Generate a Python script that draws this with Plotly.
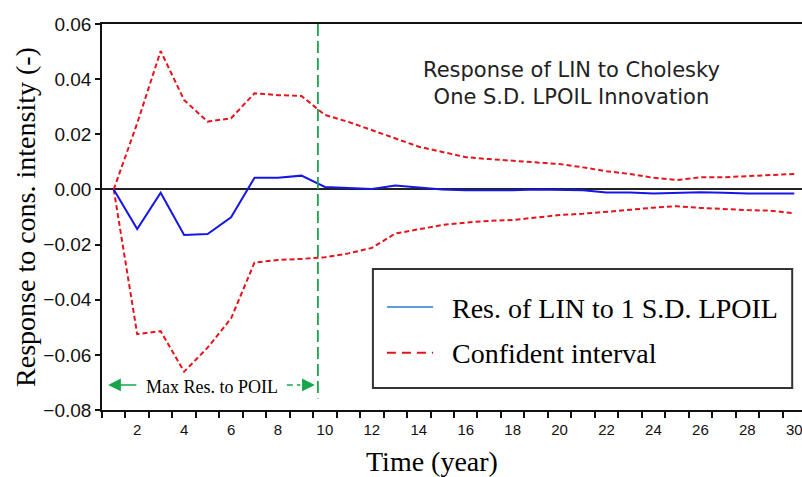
import plotly.graph_objects as go

# ---- data ----
years = list(range(1, 31))
response = [0.0, -0.0144, -0.0012, -0.0165, -0.0162, -0.0101, 0.0042, 0.0042, 0.0050, 0.0009,
            0.0005, 0.0002, 0.0014, 0.0006, 0.0000, -0.0003, -0.0003, -0.0003, 0.0000, -0.0001,
            -0.0003, -0.0011, -0.0011, -0.0015, -0.0013, -0.0010, -0.0012, -0.0015, -0.0015, -0.0015]
upper_ci = [0.0, 0.0240, 0.0502, 0.0324, 0.0246, 0.0258, 0.0349, 0.0342, 0.0339, 0.0270,
            0.0245, 0.0215, 0.0185, 0.0155, 0.0136, 0.0117, 0.0110, 0.0104, 0.0098, 0.0092,
            0.0080, 0.0066, 0.0056, 0.0042, 0.0034, 0.0044, 0.0044, 0.0047, 0.0052, 0.0056]
lower_ci = [0.0, -0.0525, -0.0514, -0.0661, -0.0574, -0.0468, -0.0265, -0.0256, -0.0252, -0.0246,
            -0.0232, -0.0212, -0.0160, -0.0145, -0.0129, -0.0120, -0.0114, -0.0111, -0.0101, -0.0093,
            -0.0088, -0.0082, -0.0074, -0.0066, -0.0061, -0.0067, -0.0072, -0.0075, -0.0077, -0.0087]
x_tick_vals = list(range(2, 31, 2))
y_tick_vals = [-0.08, -0.06, -0.04, -0.02, 0.0, 0.02, 0.04, 0.06]
max_response_year = 9.7

series_name = "Res. of LIN to 1 S.D. LPOIL"
ci_name = "Confident interval"

BLUE = "#1616e6"
RED = "#e3141c"
GREEN = "#19a64b"
SERIF = "Liberation Serif"
SANS = "Liberation Sans"

fig = go.Figure()
fig.add_trace(go.Scatter(x=years, y=upper_ci, mode="lines", name=ci_name, showlegend=False,
                         line=dict(color=RED, width=2, dash="5px,3px")))
fig.add_trace(go.Scatter(x=years, y=lower_ci, mode="lines", name=ci_name, showlegend=False,
                         line=dict(color=RED, width=2, dash="5px,3px")))
fig.add_trace(go.Scatter(x=years, y=response, mode="lines", name=series_name, showlegend=False,
                         line=dict(color=BLUE, width=2)))

# vertical reference line
fig.add_shape(type="line", xref="x", yref="y", x0=max_response_year, x1=max_response_year,
              y0=0.06, y1=-0.0758, line=dict(color=GREEN, width=1.8, dash="12px,5px"))

# "Max Res. to POIL" arrows
arrow_y = -0.0709
fig.add_annotation(x=0.76, y=arrow_y, ax=2.03, ay=arrow_y, axref="x", ayref="y", xref="x", yref="y",
                   text="", showarrow=True, arrowhead=2, arrowsize=1.7, arrowwidth=1.5,
                   arrowcolor=GREEN, standoff=0, startstandoff=0)
fig.add_shape(type="line", xref="x", yref="y", x0=8.38, x1=8.95, y0=arrow_y, y1=arrow_y,
              line=dict(color=GREEN, width=1.5, dash="6px,4px"))
fig.add_annotation(x=9.57, y=arrow_y, ax=9.0, ay=arrow_y, axref="x", ayref="y", xref="x", yref="y",
                   text="", showarrow=True, arrowhead=2, arrowsize=1.7, arrowwidth=1.5,
                   arrowcolor=GREEN, standoff=0, startstandoff=0)
fig.add_annotation(x=5.19, y=-0.0718, xref="x", yref="y", text="Max Res. to POIL",
                   showarrow=False, font=dict(family=SERIF, size=18, color="black"),
                   xanchor="center", yanchor="middle")

# chart title inside the plot
fig.add_annotation(x=0.671, y=0.847, xref="paper", yref="paper",
                   text="Response of LIN to Cholesky<br>One S.D. LPOIL Innovation",
                   showarrow=False, font=dict(family="DejaVu Sans", size=21, color="#222"),
                   xanchor="center", yanchor="middle", align="center")

# manual legend box
fig.add_shape(type="rect", xref="paper", yref="paper", x0=0.387, x1=0.986, y0=0.057, y1=0.365,
              line=dict(color="#333", width=2), fillcolor="white", layer="above")
fig.add_shape(type="line", xref="paper", yref="paper", x0=0.407, x1=0.473, y0=0.267, y1=0.267,
              line=dict(color="#2b7bd6", width=1.5), layer="above")
fig.add_shape(type="line", xref="paper", yref="paper", x0=0.407, x1=0.473, y0=0.148, y1=0.148,
              line=dict(color=RED, width=2, dash="9px,6px"), layer="above")
fig.add_annotation(x=0.497, y=0.262, xref="paper", yref="paper", text=series_name,
                   showarrow=False, font=dict(family=SERIF, size=28, color="black"),
                   xanchor="left", yanchor="middle")
fig.add_annotation(x=0.497, y=0.147, xref="paper", yref="paper", text=ci_name,
                   showarrow=False, font=dict(family=SERIF, size=28, color="black"),
                   xanchor="left", yanchor="middle")

# x-axis title
fig.add_annotation(x=0.472, y=-0.1337, xref="paper", yref="paper", text="Time (year)",
                   showarrow=False, font=dict(family=SERIF, size=28, color="black"),
                   xanchor="center", yanchor="middle")

fig.update_layout(
    width=802, height=477,
    margin=dict(l=102, r=0, t=24, b=67, autoexpand=False),
    paper_bgcolor="white", plot_bgcolor="white",
    showlegend=False,
    xaxis=dict(range=[0.5, 30.33], tickvals=x_tick_vals, ticktext=[str(v) for v in x_tick_vals],
               ticks="", showgrid=False, zeroline=False, ticklabelstandoff=5,
               ticklabeloverflow="allow",
               showline=True, linecolor="#111", linewidth=1.5, mirror=True,
               tickfont=dict(family=SANS, size=15, color="#111"),
               minor=dict(tickmode="linear", tick0=0.5, dtick=1, ticks="outside", ticklen=6,
                          tickwidth=1.5, tickcolor="#111", showgrid=False)),
    yaxis=dict(range=[-0.08, 0.06], tickvals=y_tick_vals, tickformat=".2f",
               ticks="outside", ticklen=5, tickwidth=1.5, tickcolor="#111",
               showgrid=False, zeroline=True, zerolinecolor="#222", zerolinewidth=1.5,
               showline=True, linecolor="#111", linewidth=1.5,
               tickfont=dict(family=SANS, size=19, color="#111"),
               title=dict(text="Response to cons. intensity (-)", standoff=0,
                          font=dict(family=SERIF, size=28, color="black"))),
)

fig.write_html("out.html",
               config={"displayModeBar": False},
               post_script="document.body.style.margin='0';document.body.style.padding='0';"
                           "document.body.style.overflow='hidden';")
